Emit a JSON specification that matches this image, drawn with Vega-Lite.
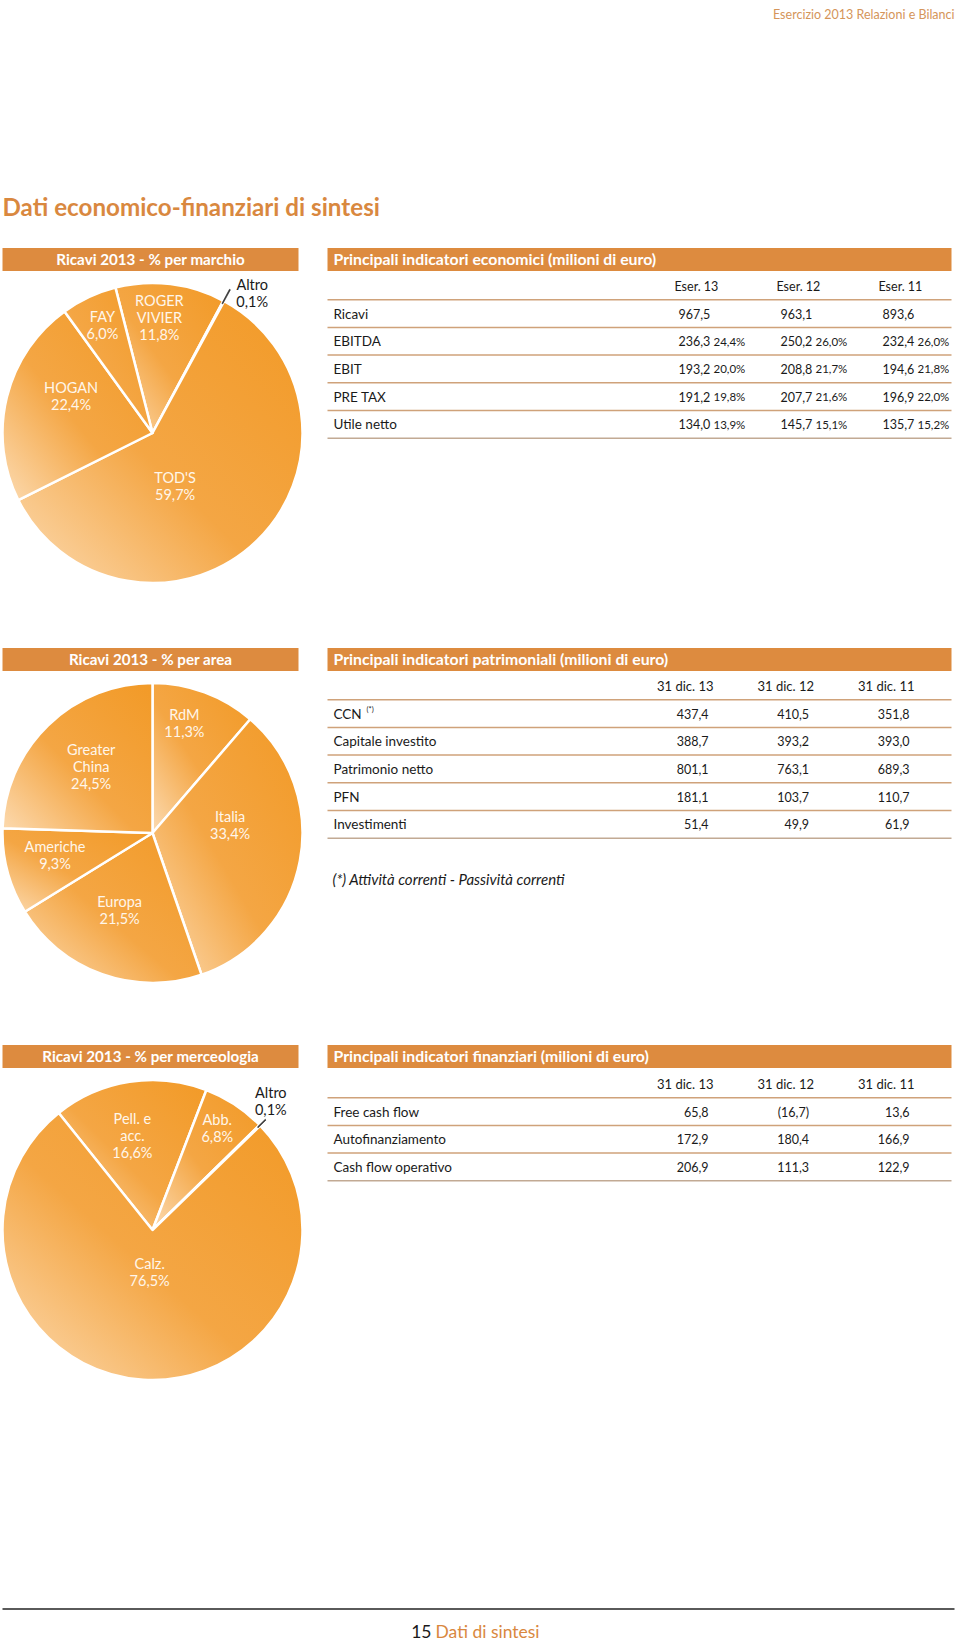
{
  "$schema": "https://vega.github.io/schema/vega-lite/v6.json",
  "background": "white",
  "padding": {"left": 0.5, "top": 0, "right": 0, "bottom": 0},
  "spacing": 0,
  "config": {
    "view": {"stroke": null},
    "font": "Lato",
    "locale": {"number": {"decimal": ",", "thousands": ".", "grouping": [3], "currency": ["€", ""]}}
  },
  "datasets": {
    "marchio": [
      {"ord": 1, "nome": "ROGER VIVIER", "pct": 11.8, "label": "ROGER\nVIVIER\n11,8%"},
      {"ord": 2, "nome": "Altro", "pct": 0.1, "label": "Altro\n0,1%"},
      {"ord": 3, "nome": "TOD'S", "pct": 59.7, "label": "TOD'S\n59,7%"},
      {"ord": 4, "nome": "HOGAN", "pct": 22.4, "label": "HOGAN\n22,4%"},
      {"ord": 5, "nome": "FAY", "pct": 6.0, "label": "FAY\n6,0%"}
    ],
    "area": [
      {"ord": 1, "nome": "RdM", "pct": 11.3, "label": "RdM\n11,3%"},
      {"ord": 2, "nome": "Italia", "pct": 33.4, "label": "Italia\n33,4%"},
      {"ord": 3, "nome": "Europa", "pct": 21.5, "label": "Europa\n21,5%"},
      {"ord": 4, "nome": "Americhe", "pct": 9.3, "label": "Americhe\n9,3%"},
      {"ord": 5, "nome": "Greater China", "pct": 24.5, "label": "Greater\nChina\n24,5%"}
    ],
    "merceologia": [
      {"ord": 1, "nome": "Pelletteria e accessori", "pct": 16.6, "label": "Pell. e\nacc.\n16,6%"},
      {"ord": 2, "nome": "Abbigliamento", "pct": 6.8, "label": "Abb.\n6,8%"},
      {"ord": 3, "nome": "Altro", "pct": 0.1, "label": "Altro\n0,1%"},
      {"ord": 4, "nome": "Calzature", "pct": 76.5, "label": "Calz.\n76,5%"}
    ],
    "economici": [
      {"voce": "Ricavi", "anno": "Eser. 13", "valore": 967.5, "quota": null},
      {"voce": "Ricavi", "anno": "Eser. 12", "valore": 963.1, "quota": null},
      {"voce": "Ricavi", "anno": "Eser. 11", "valore": 893.6, "quota": null},
      {"voce": "EBITDA", "anno": "Eser. 13", "valore": 236.3, "quota": 0.244},
      {"voce": "EBITDA", "anno": "Eser. 12", "valore": 250.2, "quota": 0.26},
      {"voce": "EBITDA", "anno": "Eser. 11", "valore": 232.4, "quota": 0.26},
      {"voce": "EBIT", "anno": "Eser. 13", "valore": 193.2, "quota": 0.2},
      {"voce": "EBIT", "anno": "Eser. 12", "valore": 208.8, "quota": 0.217},
      {"voce": "EBIT", "anno": "Eser. 11", "valore": 194.6, "quota": 0.218},
      {"voce": "PRE TAX", "anno": "Eser. 13", "valore": 191.2, "quota": 0.198},
      {"voce": "PRE TAX", "anno": "Eser. 12", "valore": 207.7, "quota": 0.216},
      {"voce": "PRE TAX", "anno": "Eser. 11", "valore": 196.9, "quota": 0.22},
      {"voce": "Utile netto", "anno": "Eser. 13", "valore": 134.0, "quota": 0.139},
      {"voce": "Utile netto", "anno": "Eser. 12", "valore": 145.7, "quota": 0.151},
      {"voce": "Utile netto", "anno": "Eser. 11", "valore": 135.7, "quota": 0.152}
    ],
    "patrimoniali": [
      {"voce": "CCN", "anno": "31 dic. 13", "valore": 437.4},
      {"voce": "CCN", "anno": "31 dic. 12", "valore": 410.5},
      {"voce": "CCN", "anno": "31 dic. 11", "valore": 351.8},
      {"voce": "Capitale investito", "anno": "31 dic. 13", "valore": 388.7},
      {"voce": "Capitale investito", "anno": "31 dic. 12", "valore": 393.2},
      {"voce": "Capitale investito", "anno": "31 dic. 11", "valore": 393.0},
      {"voce": "Patrimonio netto", "anno": "31 dic. 13", "valore": 801.1},
      {"voce": "Patrimonio netto", "anno": "31 dic. 12", "valore": 763.1},
      {"voce": "Patrimonio netto", "anno": "31 dic. 11", "valore": 689.3},
      {"voce": "PFN", "anno": "31 dic. 13", "valore": 181.1},
      {"voce": "PFN", "anno": "31 dic. 12", "valore": 103.7},
      {"voce": "PFN", "anno": "31 dic. 11", "valore": 110.7},
      {"voce": "Investimenti", "anno": "31 dic. 13", "valore": 51.4},
      {"voce": "Investimenti", "anno": "31 dic. 12", "valore": 49.9},
      {"voce": "Investimenti", "anno": "31 dic. 11", "valore": 61.9}
    ],
    "finanziari": [
      {"voce": "Free cash flow", "anno": "31 dic. 13", "valore": 65.8},
      {"voce": "Free cash flow", "anno": "31 dic. 12", "valore": -16.7},
      {"voce": "Free cash flow", "anno": "31 dic. 11", "valore": 13.6},
      {"voce": "Autofinanziamento", "anno": "31 dic. 13", "valore": 172.9},
      {"voce": "Autofinanziamento", "anno": "31 dic. 12", "valore": 180.4},
      {"voce": "Autofinanziamento", "anno": "31 dic. 11", "valore": 166.9},
      {"voce": "Cash flow operativo", "anno": "31 dic. 13", "valore": 206.9},
      {"voce": "Cash flow operativo", "anno": "31 dic. 12", "valore": 111.3},
      {"voce": "Cash flow operativo", "anno": "31 dic. 11", "valore": 122.9}
    ]
  },
  "vconcat": [
    {
      "width": 952,
      "height": 248,
      "data": {"values": [{"testata": "Esercizio 2013 Relazioni e Bilanci", "titolo": "Dati economico-finanziari di sintesi"}]},
      "layer": [
        {"mark": {"type": "text", "align": "right", "baseline": "middle", "fontSize": 12.5, "color": "#d5955a"},
         "encoding": {"x": {"value": 952}, "y": {"value": 15}, "text": {"field": "testata"}}},
        {"mark": {"type": "text", "align": "left", "baseline": "middle", "fontSize": 24.2, "fontWeight": "bold", "color": "#d9883f"},
         "encoding": {"x": {"value": 0}, "y": {"value": 209}, "text": {"field": "titolo"}}}
      ]
    },
    {
      "spacing": 22,
      "hconcat": [
        {
          "spacing": 0,
          "bounds": "flush",
          "vconcat": [
            {
              "width": 296, "height": 23,
              "data": {"values": [{"titolo": "Ricavi 2013 - % per marchio"}]},
              "layer": [
                {"mark": {"type": "rect", "color": "#dd8b3f"}, "encoding": {"x": {"value": 0}, "x2": {"value": "width"}, "y": {"value": 0}, "y2": {"value": "height"}}},
                {"mark": {"type": "text", "color": "white", "fontWeight": "bold", "fontSize": 15.2, "align": "center", "baseline": "middle"}, "encoding": {"x": {"value": 148}, "y": {"value": 12}, "text": {"field": "titolo"}}}
              ]
            },
            {
              "width": 300, "height": 324,
              "data": {"name": "marchio"},
              "encoding": {
                "theta": {"field": "pct", "type": "quantitative", "stack": true, "scale": {"range": [-0.2496, 6.0336]}},
                "order": {"field": "ord", "type": "quantitative"}
              },
              "layer": [
                {"mark": {"type": "arc", "radius": 150, "stroke": "white", "strokeWidth": 2.5, "strokeJoin": "round",
                  "fill": {"gradient": "linear", "x1": 1, "y1": 0, "x2": 0, "y2": 1, "stops": [{"offset": 0, "color": "#f29a27"}, {"offset": 0.55, "color": "#f4a644"}, {"offset": 1, "color": "#fcdbb2"}]}}},
                {"mark": {"type": "arc", "radius": {"expr": "datum.nome === 'Altro' ? 163 : 147"}, "radius2": 147, "fill": "#333", "stroke": "#333", "strokeWidth": 0.7, "strokeJoin": "round"},
                 "encoding": {"opacity": {"condition": {"test": "datum.nome === 'Altro'", "value": 1}, "value": 0}}},
                {"mark": {"type": "text", "radius": 115, "dx": -7, "dy": -17, "fontSize": 14.5, "lineBreak": "\n", "lineHeight": 17, "color": "#fff6ea", "align": "center", "baseline": "middle"},
                 "encoding": {"text": {"condition": {"test": "datum.nome === 'ROGER VIVIER'", "field": "label"}, "value": ""}}},
                {"mark": {"type": "text", "radius": 118, "dy": -8.5, "fontSize": 14.5, "lineBreak": "\n", "lineHeight": 17, "color": "#fff6ea", "align": "center", "baseline": "middle"},
                 "encoding": {"text": {"condition": {"test": "datum.nome === 'FAY'", "field": "label"}, "value": ""}}},
                {"mark": {"type": "text", "radius": 90, "dx": 6, "dy": -22.5, "fontSize": 14.5, "lineBreak": "\n", "lineHeight": 17, "color": "#fff6ea", "align": "center", "baseline": "middle"},
                 "encoding": {"text": {"condition": {"test": "datum.nome === 'HOGAN'", "field": "label"}, "value": ""}}},
                {"mark": {"type": "text", "radius": 57, "dx": -17, "dy": 4.5, "fontSize": 14.5, "lineBreak": "\n", "lineHeight": 17, "color": "#fff6ea", "align": "center", "baseline": "middle"},
                 "encoding": {"text": {"condition": {"test": "datum.nome === \"TOD'S\"", "field": "label"}, "value": ""}}},
                {"mark": {"type": "text", "radius": {"expr": "datum.nome === 'Altro' ? 172 : 0"}, "dx": 18, "dy": 4.5, "fontSize": 14.5, "lineBreak": "\n", "lineHeight": 17, "color": "#1a1a1a", "align": "center", "baseline": "middle"},
                 "encoding": {"text": {"condition": {"test": "datum.nome === 'Altro'", "field": "label"}, "value": ""}}}
              ]
            }
          ]
        },
        {
          "spacing": 0,
          "bounds": "flush",
          "vconcat": [
            {
              "width": 624, "height": 23,
              "data": {"values": [{"titolo": "Principali indicatori economici (milioni di euro)"}]},
              "layer": [
                {"mark": {"type": "rect", "color": "#dd8b3f"}, "encoding": {"x": {"value": 0}, "x2": {"value": "width"}, "y": {"value": 0}, "y2": {"value": "height"}}},
                {"mark": {"type": "text", "color": "white", "fontWeight": "bold", "fontSize": 15.8, "align": "left", "baseline": "middle"}, "encoding": {"x": {"value": 6}, "y": {"value": 12}, "text": {"field": "titolo"}}}
              ]
            },
            {
              "width": 624, "height": 377,
              "data": {"name": "economici"},
              "layer": [
                {"transform": [{"filter": "datum.anno === 'Eser. 13'"}],
                 "mark": {"type": "rule", "color": "#cfa27a", "strokeWidth": 1.5},
                 "encoding": {"y": {"field": "voce", "type": "nominal", "bandPosition": 0, "axis": null,
                   "scale": {"type": "band", "domain": ["hdr", "Ricavi", "EBITDA", "EBIT", "PRE TAX", "Utile netto"], "range": [1, 167.2], "paddingInner": 0, "paddingOuter": 0}}}},
                {"transform": [{"filter": "datum.anno === 'Eser. 13' && datum.voce === 'Utile netto'"}],
                 "mark": {"type": "rule", "color": "#c2aa94", "strokeWidth": 1.5},
                 "encoding": {"y": {"field": "voce", "type": "nominal", "bandPosition": 1, "axis": null}}},
                {"transform": [{"filter": "datum.anno === 'Eser. 13'"}],
                 "mark": {"type": "text", "align": "left", "baseline": "middle", "fontSize": 13.5, "color": "#1a1a1a", "dy": 1},
                 "encoding": {"x": {"value": 6}, "y": {"field": "voce", "type": "nominal", "axis": null}, "text": {"field": "voce"}}},
                {"transform": [{"filter": "datum.voce === 'Ricavi'"}],
                 "mark": {"type": "text", "align": "left", "baseline": "middle", "fontSize": 12.5, "color": "#1a1a1a", "dx": -4, "dy": 1},
                 "encoding": {"x": {"field": "anno", "type": "nominal", "axis": null, "scale": {"type": "point", "domain": ["Eser. 13", "Eser. 12", "Eser. 11"], "range": [351, 555], "padding": 0}},
                   "y": {"datum": "hdr", "type": "nominal", "axis": null}, "text": {"field": "anno"}}},
                {"mark": {"type": "text", "align": "left", "baseline": "middle", "fontSize": 12.5, "color": "#1a1a1a", "dy": 1},
                 "encoding": {"x": {"field": "anno", "type": "nominal", "axis": null}, "y": {"field": "voce", "type": "nominal", "axis": null}, "text": {"field": "valore", "type": "quantitative", "format": ".1f"}}},
                {"transform": [{"filter": "datum.quota != null"}],
                 "mark": {"type": "text", "align": "left", "baseline": "middle", "fontSize": 11.5, "color": "#1a1a1a", "dx": 35, "dy": 1.5},
                 "encoding": {"x": {"field": "anno", "type": "nominal", "axis": null}, "y": {"field": "voce", "type": "nominal", "axis": null}, "text": {"field": "quota", "type": "quantitative", "format": ".1%"}}}
              ]
            }
          ]
        }
      ]
    },
    {
      "spacing": 22,
      "hconcat": [
        {
          "spacing": 0,
          "bounds": "flush",
          "vconcat": [
            {
              "width": 296, "height": 23,
              "data": {"values": [{"titolo": "Ricavi 2013 - % per area"}]},
              "layer": [
                {"mark": {"type": "rect", "color": "#dd8b3f"}, "encoding": {"x": {"value": 0}, "x2": {"value": "width"}, "y": {"value": 0}, "y2": {"value": "height"}}},
                {"mark": {"type": "text", "color": "white", "fontWeight": "bold", "fontSize": 15.2, "align": "center", "baseline": "middle"}, "encoding": {"x": {"value": 148}, "y": {"value": 12}, "text": {"field": "titolo"}}}
              ]
            },
            {
              "width": 300, "height": 324,
              "data": {"name": "area"},
              "encoding": {
                "theta": {"field": "pct", "type": "quantitative", "stack": true, "scale": {"range": [0, 6.2832]}},
                "order": {"field": "ord", "type": "quantitative"}
              },
              "layer": [
                {"mark": {"type": "arc", "radius": 150, "stroke": "white", "strokeWidth": 2.5, "strokeJoin": "round",
                  "fill": {"gradient": "linear", "x1": 1, "y1": 0, "x2": 0, "y2": 1, "stops": [{"offset": 0, "color": "#f29a27"}, {"offset": 0.55, "color": "#f4a644"}, {"offset": 1, "color": "#fcdbb2"}]}}},
                {"mark": {"type": "text", "radius": 112, "dx": -7, "dy": -11.5, "fontSize": 14.5, "lineBreak": "\n", "lineHeight": 17, "color": "#fff6ea", "align": "center", "baseline": "middle"},
                 "encoding": {"text": {"condition": {"test": "datum.nome === 'RdM'", "field": "label"}, "value": ""}}},
                {"mark": {"type": "text", "radius": 78, "dx": 1, "dy": -29.5, "fontSize": 14.5, "lineBreak": "\n", "lineHeight": 17, "color": "#fff6ea", "align": "center", "baseline": "middle"},
                 "encoding": {"text": {"condition": {"test": "datum.nome === 'Italia'", "field": "label"}, "value": ""}}},
                {"mark": {"type": "text", "radius": 86, "dx": -4, "dy": -11.5, "fontSize": 14.5, "lineBreak": "\n", "lineHeight": 17, "color": "#fff6ea", "align": "center", "baseline": "middle"},
                 "encoding": {"text": {"condition": {"test": "datum.nome === 'Europa'", "field": "label"}, "value": ""}}},
                {"mark": {"type": "text", "radius": 104, "dx": 3, "dy": -11.5, "fontSize": 14.5, "lineBreak": "\n", "lineHeight": 17, "color": "#fff6ea", "align": "center", "baseline": "middle"},
                 "encoding": {"text": {"condition": {"test": "datum.nome === 'Americhe'", "field": "label"}, "value": ""}}},
                {"mark": {"type": "text", "radius": 91, "dx": 2, "dy": -17, "fontSize": 14.5, "lineBreak": "\n", "lineHeight": 17, "color": "#fff6ea", "align": "center", "baseline": "middle"},
                 "encoding": {"text": {"condition": {"test": "datum.nome === 'Greater China'", "field": "label"}, "value": ""}}}
              ]
            }
          ]
        },
        {
          "spacing": 0,
          "bounds": "flush",
          "vconcat": [
            {
              "width": 624, "height": 23,
              "data": {"values": [{"titolo": "Principali indicatori patrimoniali (milioni di euro)"}]},
              "layer": [
                {"mark": {"type": "rect", "color": "#dd8b3f"}, "encoding": {"x": {"value": 0}, "x2": {"value": "width"}, "y": {"value": 0}, "y2": {"value": "height"}}},
                {"mark": {"type": "text", "color": "white", "fontWeight": "bold", "fontSize": 15.8, "align": "left", "baseline": "middle"}, "encoding": {"x": {"value": 6}, "y": {"value": 12}, "text": {"field": "titolo"}}}
              ]
            },
            {
              "width": 624, "height": 374,
              "data": {"name": "patrimoniali"},
              "layer": [
                {"transform": [{"filter": "datum.anno === '31 dic. 13'"}],
                 "mark": {"type": "rule", "color": "#cfa27a", "strokeWidth": 1.5},
                 "encoding": {"y": {"field": "voce", "type": "nominal", "bandPosition": 0, "axis": null,
                   "scale": {"type": "band", "domain": ["hdr", "CCN", "Capitale investito", "Patrimonio netto", "PFN", "Investimenti", "sp", "nota"], "range": [1, 222.6], "paddingInner": 0, "paddingOuter": 0}}}},
                {"transform": [{"filter": "datum.anno === '31 dic. 13' && datum.voce === 'Investimenti'"}],
                 "mark": {"type": "rule", "color": "#c2aa94", "strokeWidth": 1.5},
                 "encoding": {"y": {"field": "voce", "type": "nominal", "bandPosition": 1, "axis": null}}},
                {"transform": [{"filter": "datum.anno === '31 dic. 13'"}],
                 "mark": {"type": "text", "align": "left", "baseline": "middle", "fontSize": 13.5, "color": "#1a1a1a", "dy": 1},
                 "encoding": {"x": {"value": 6}, "y": {"field": "voce", "type": "nominal", "axis": null}, "text": {"field": "voce"}}},
                {"transform": [{"filter": "datum.anno === '31 dic. 13' && datum.voce === 'CCN'"}],
                 "mark": {"type": "text", "align": "left", "baseline": "middle", "fontSize": 7.5, "color": "#1a1a1a", "dx": 33, "dy": -4},
                 "encoding": {"x": {"value": 6}, "y": {"field": "voce", "type": "nominal", "axis": null}, "text": {"value": "(*)"}}},
                {"transform": [{"filter": "datum.voce === 'CCN'"}],
                 "mark": {"type": "text", "align": "right", "baseline": "middle", "fontSize": 13, "color": "#1a1a1a", "dx": 5, "dy": 1},
                 "encoding": {"x": {"field": "anno", "type": "nominal", "axis": null, "scale": {"type": "point", "domain": ["31 dic. 13", "31 dic. 12", "31 dic. 11"], "range": [381, 582], "padding": 0}},
                   "y": {"datum": "hdr", "type": "nominal", "axis": null}, "text": {"field": "anno"}}},
                {"mark": {"type": "text", "align": "right", "baseline": "middle", "fontSize": 12.5, "color": "#1a1a1a", "dy": 1},
                 "encoding": {"x": {"field": "anno", "type": "nominal", "axis": null}, "y": {"field": "voce", "type": "nominal", "axis": null}, "text": {"field": "valore", "type": "quantitative", "format": ".1f"}}},
                {"data": {"values": [{"nota": "(*) Attività correnti - Passività correnti"}]},
                 "mark": {"type": "text", "align": "left", "baseline": "middle", "fontSize": 15, "fontStyle": "italic", "color": "#1a1a1a"},
                 "encoding": {"x": {"value": 5}, "y": {"datum": "nota", "type": "nominal", "axis": null}, "text": {"field": "nota"}}}
              ]
            }
          ]
        }
      ]
    },
    {
      "spacing": 22,
      "hconcat": [
        {
          "spacing": 0,
          "bounds": "flush",
          "vconcat": [
            {
              "width": 296, "height": 23,
              "data": {"values": [{"titolo": "Ricavi 2013 - % per merceologia"}]},
              "layer": [
                {"mark": {"type": "rect", "color": "#dd8b3f"}, "encoding": {"x": {"value": 0}, "x2": {"value": "width"}, "y": {"value": 0}, "y2": {"value": "height"}}},
                {"mark": {"type": "text", "color": "white", "fontWeight": "bold", "fontSize": 15.2, "align": "center", "baseline": "middle"}, "encoding": {"x": {"value": 148}, "y": {"value": 12}, "text": {"field": "titolo"}}}
              ]
            },
            {
              "width": 300, "height": 324,
              "data": {"name": "merceologia"},
              "encoding": {
                "theta": {"field": "pct", "type": "quantitative", "stack": true, "scale": {"range": [-0.6754, 5.6078]}},
                "order": {"field": "ord", "type": "quantitative"}
              },
              "layer": [
                {"mark": {"type": "arc", "radius": 150, "stroke": "white", "strokeWidth": 2.5, "strokeJoin": "round",
                  "fill": {"gradient": "linear", "x1": 1, "y1": 0, "x2": 0, "y2": 1, "stops": [{"offset": 0, "color": "#f29a27"}, {"offset": 0.55, "color": "#f4a644"}, {"offset": 1, "color": "#fcdbb2"}]}}},
                {"mark": {"type": "arc", "radius": {"expr": "datum.nome === 'Altro' ? 158 : 147"}, "radius2": 147, "fill": "#333", "stroke": "#333", "strokeWidth": 0.7, "strokeJoin": "round"},
                 "encoding": {"opacity": {"condition": {"test": "datum.nome === 'Altro'", "value": 1}, "value": 0}}},
                {"mark": {"type": "text", "radius": 92, "dx": -6, "dy": -19, "fontSize": 14.5, "lineBreak": "\n", "lineHeight": 17, "color": "#fff6ea", "align": "center", "baseline": "middle"},
                 "encoding": {"text": {"condition": {"test": "datum.nome === 'Pelletteria e accessori'", "field": "label"}, "value": ""}}},
                {"mark": {"type": "text", "radius": 118, "dy": -10.5, "fontSize": 14.5, "lineBreak": "\n", "lineHeight": 17, "color": "#fff6ea", "align": "center", "baseline": "middle"},
                 "encoding": {"text": {"condition": {"test": "datum.nome === 'Abbigliamento'", "field": "label"}, "value": ""}}},
                {"mark": {"type": "text", "radius": 45, "dy": -10, "fontSize": 14.5, "lineBreak": "\n", "lineHeight": 17, "color": "#fff6ea", "align": "center", "baseline": "middle"},
                 "encoding": {"text": {"condition": {"test": "datum.nome === 'Calzature'", "field": "label"}, "value": ""}}},
                {"mark": {"type": "text", "radius": {"expr": "datum.nome === 'Altro' ? 175 : 0"}, "dx": -7, "dy": -14, "fontSize": 14.5, "lineBreak": "\n", "lineHeight": 17, "color": "#1a1a1a", "align": "center", "baseline": "middle"},
                 "encoding": {"text": {"condition": {"test": "datum.nome === 'Altro'", "field": "label"}, "value": ""}}}
              ]
            }
          ]
        },
        {
          "spacing": 0,
          "bounds": "flush",
          "vconcat": [
            {
              "width": 624, "height": 23,
              "data": {"values": [{"titolo": "Principali indicatori finanziari (milioni di euro)"}]},
              "layer": [
                {"mark": {"type": "rect", "color": "#dd8b3f"}, "encoding": {"x": {"value": 0}, "x2": {"value": "width"}, "y": {"value": 0}, "y2": {"value": "height"}}},
                {"mark": {"type": "text", "color": "white", "fontWeight": "bold", "fontSize": 15.8, "align": "left", "baseline": "middle"}, "encoding": {"x": {"value": 6}, "y": {"value": 12}, "text": {"field": "titolo"}}}
              ]
            },
            {
              "width": 624, "height": 540,
              "data": {"name": "finanziari"},
              "layer": [
                {"transform": [{"filter": "datum.anno === '31 dic. 13'"}],
                 "mark": {"type": "rule", "color": "#cfa27a", "strokeWidth": 1.5},
                 "encoding": {"y": {"field": "voce", "type": "nominal", "bandPosition": 0, "axis": null,
                   "scale": {"type": "band", "domain": ["hdr", "Free cash flow", "Autofinanziamento", "Cash flow operativo"], "range": [2, 112.8], "paddingInner": 0, "paddingOuter": 0}}}},
                {"transform": [{"filter": "datum.anno === '31 dic. 13' && datum.voce === 'Cash flow operativo'"}],
                 "mark": {"type": "rule", "color": "#c2aa94", "strokeWidth": 1.5},
                 "encoding": {"y": {"field": "voce", "type": "nominal", "bandPosition": 1, "axis": null}}},
                {"transform": [{"filter": "datum.anno === '31 dic. 13'"}],
                 "mark": {"type": "text", "align": "left", "baseline": "middle", "fontSize": 13.5, "color": "#1a1a1a", "dy": 1},
                 "encoding": {"x": {"value": 6}, "y": {"field": "voce", "type": "nominal", "axis": null}, "text": {"field": "voce"}}},
                {"transform": [{"filter": "datum.voce === 'Free cash flow'"}],
                 "mark": {"type": "text", "align": "right", "baseline": "middle", "fontSize": 13, "color": "#1a1a1a", "dx": 5, "dy": 1},
                 "encoding": {"x": {"field": "anno", "type": "nominal", "axis": null, "scale": {"type": "point", "domain": ["31 dic. 13", "31 dic. 12", "31 dic. 11"], "range": [381, 582], "padding": 0}},
                   "y": {"datum": "hdr", "type": "nominal", "axis": null}, "text": {"field": "anno"}}},
                {"mark": {"type": "text", "align": "right", "baseline": "middle", "fontSize": 12.5, "color": "#1a1a1a", "dy": 1},
                 "encoding": {"x": {"field": "anno", "type": "nominal", "axis": null}, "y": {"field": "voce", "type": "nominal", "axis": null}, "text": {"field": "valore", "type": "quantitative", "format": "(.1f"}}}
              ]
            }
          ]
        }
      ]
    },
    {
      "width": 952,
      "height": 36,
      "data": {"values": [{"pagina": "15", "sezione": "Dati di sintesi"}]},
      "layer": [
        {"mark": {"type": "rule", "color": "#5a5a5a", "strokeWidth": 2}, "encoding": {"x": {"value": 0}, "x2": {"value": "width"}, "y": {"value": 1}}},
        {"mark": {"type": "text", "align": "right", "baseline": "middle", "fontSize": 17.5, "color": "#1a1a1a"}, "encoding": {"x": {"value": 429}, "y": {"value": 25}, "text": {"field": "pagina"}}},
        {"mark": {"type": "text", "align": "left", "baseline": "middle", "fontSize": 17.5, "color": "#d9883f"}, "encoding": {"x": {"value": 433}, "y": {"value": 25}, "text": {"field": "sezione"}}}
      ]
    }
  ]
}
